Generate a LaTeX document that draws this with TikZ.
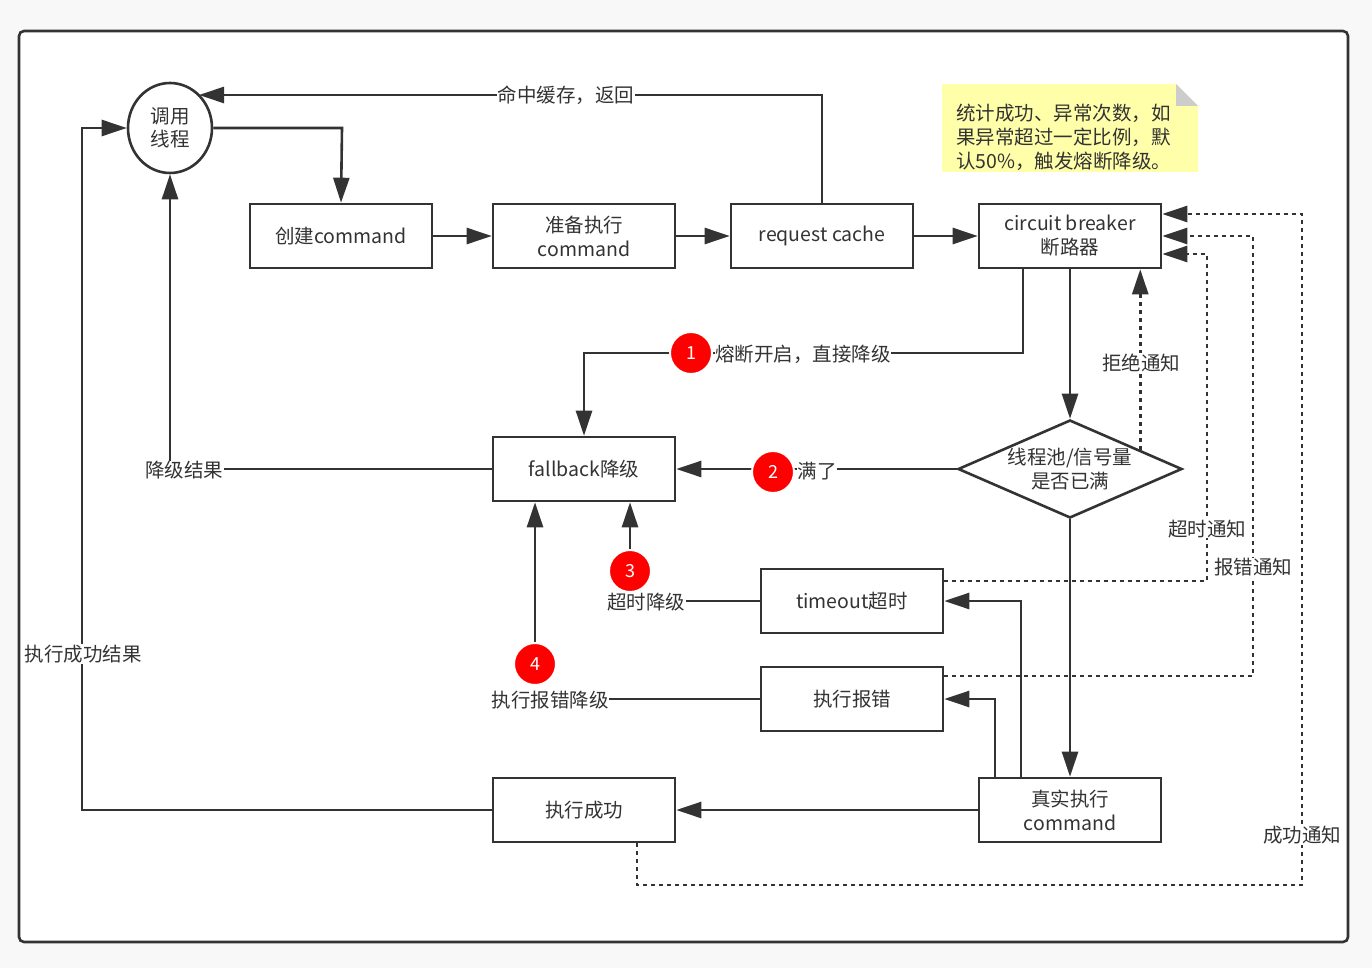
\documentclass[tikz,border=0pt]{standalone}
\usepackage{fontspec}
\setmainfont{Noto Sans CJK SC}
\usetikzlibrary{arrows.meta,shapes.geometric,calc}
\definecolor{lc}{HTML}{333333}
\definecolor{tc}{HTML}{333333}
\definecolor{notey}{HTML}{FFFFAA}
\definecolor{fold}{HTML}{CCCCCC}
\newcommand\myfs{\fontsize{19.5}{24}\selectfont}
\begin{document}
\begin{tikzpicture}[x=1pt,y=-1pt,
  line/.style={draw=lc, line width=2.6pt},
  arr/.style={line, -{Triangle[length=25pt,width=16pt]}},
  dotted arr/.style={arr, dash pattern=on 4pt off 4pt},
  box/.style={draw=lc, line width=2.6pt, minimum width=182pt, minimum height=64pt, inner sep=0pt, align=center, font=\myfs, text=tc, fill=white},
  lab/.style={fill=white, inner sep=0.5pt, text=tc, font=\myfs},
  badge/.style={circle, fill=red, draw=white, line width=2pt, minimum size=42pt, inner sep=0pt, text=white, font=\fontsize{18}{20}\selectfont}
]
\useasboundingbox (0,0) rectangle (1372,968);
\fill[fill={rgb,255:red,248;green,248;blue,248}] (0,0) rectangle (1372,968);
\draw[draw=lc, fill=white, line width=2.6pt, rounded corners=5pt] (19,31) rectangle (1348,942);

% note
\fill[notey] (942,84) -- (1176,84) -- (1198,106) -- (1198,172) -- (942,172) -- cycle;
\fill[fold] (1176,84) -- (1176,106) -- (1198,106) -- cycle;
\node[anchor=north west, align=left, text=tc, font=\myfs, inner sep=0pt] (note) at (956,104)
  {统计成功、异常次数，如\\果异常超过一定比例，默\\认50\%，触发熔断降级。};

% nodes
\node[ellipse, draw=lc, line width=2.6pt, minimum width=84pt, minimum height=90pt, inner sep=0pt, align=center, font=\fontsize{19.5}{23}\selectfont, text=tc, fill=white] (th) at (170,128) {调用\\线程};
\node[box] (c1) at (341,236) {创建command};
\node[box] (c2) at (584,236) {准备执行\\command};
\node[box] (rc) at (822,236) {request cache};
\node[box] (cb) at (1070,236) {circuit breaker\\断路器};
\node[box] (fb) at (584,469) {fallback降级};
\node[diamond, draw=lc, line width=2.6pt, minimum width=224pt, minimum height=98pt, aspect=2.3, inner sep=0pt, align=center, font=\myfs, text=tc, fill=white] (dm) at (1070,469) {线程池/信号量\\是否已满};
\node[box] (to) at (852,601) {timeout超时};
\node[box] (er) at (852,699) {执行报错};
\node[box] (ok) at (584,810) {执行成功};
\node[box] (rx) at (1070,810) {真实执行\\command};

% labels that end connectors
\node[lab] (l5) at (646,602) {超时降级};
\node[badge] (b3) at (630,571) {3};
\node[lab] (l6) at (550,700) {执行报错降级};
\node[badge] (b4) at (535,664) {4};

\coordinate (hit) at ($(th.center)+(29,-33)$);
\coordinate (dmr) at ($(dm.north)!0.62!(dm.east)$);

% connectors
\draw[arr] (th.east) -- (342,128) -- (c1.north);
\draw[arr] (c1) -- (c2);
\draw[arr] (c2) -- (rc);
\draw[arr] (rc) -- (cb);
\draw[arr] (rc.north) |- (hit);
\draw[arr] ([xshift=-47pt]cb.south) |- (584,353) -- (fb.north);
\draw[arr] (cb) -- (dm);
\draw[dotted arr] (dmr) -- (dmr |- cb.south);
\draw[arr] (dm.west) -- (fb.east);
\draw[arr] (dm.south) -- (rx.north);
\draw[arr] ([xshift=-49pt]rx.north) |- (to.east);
\draw[arr] ([xshift=-75pt]rx.north) |- (er.east);
\draw[arr] (rx.west) -- (ok.east);
\draw[line] (to.west) -- (to.west -| l5.east);
\draw[arr] (b3.north) -- (b3.north |- fb.south);
\draw[line] (er.west) -- (er.west -| l6.east);
\draw[arr] (b4.north) -- (b4.north |- fb.south);
\draw[arr] (fb.west) -| (th.south);
\draw[arr] (ok.west) -- (82,810) -- (82,128) -- (th.west);
\draw[dotted arr] ([yshift=20pt]to.east) -- (1207,581) |- ([yshift=-18pt]cb.east);
\draw[dotted arr] ([yshift=23pt]er.east) -- (1253,676) |- (cb.east);
\draw[dotted arr] ([xshift=53pt]ok.south) -- (637,885) -- (1302,885) |- ([yshift=22pt]cb.east);

% labels on connectors
\node[lab] (l1) at (566,95) {命中缓存，返回};
\node[lab] (l2) at (803,354) {熔断开启，直接降级};
\node[badge] (b1) at (691,353) {1};
\node[lab] (l3) at (1141,363) {拒绝通知};
\node[lab] (l4) at (817,471) {满了};
\node[badge] (b2) at (773,472) {2};
\node[lab] (l7) at (184,470) {降级结果};
\node[lab] (l8) at (83,654) {执行成功结果};
\node[lab] (l9) at (1207,529) {超时通知};
\node[lab] (l10) at (1253,567) {报错通知};
\node[lab] (l11) at (1302,835) {成功通知};
\end{tikzpicture}
\end{document}
